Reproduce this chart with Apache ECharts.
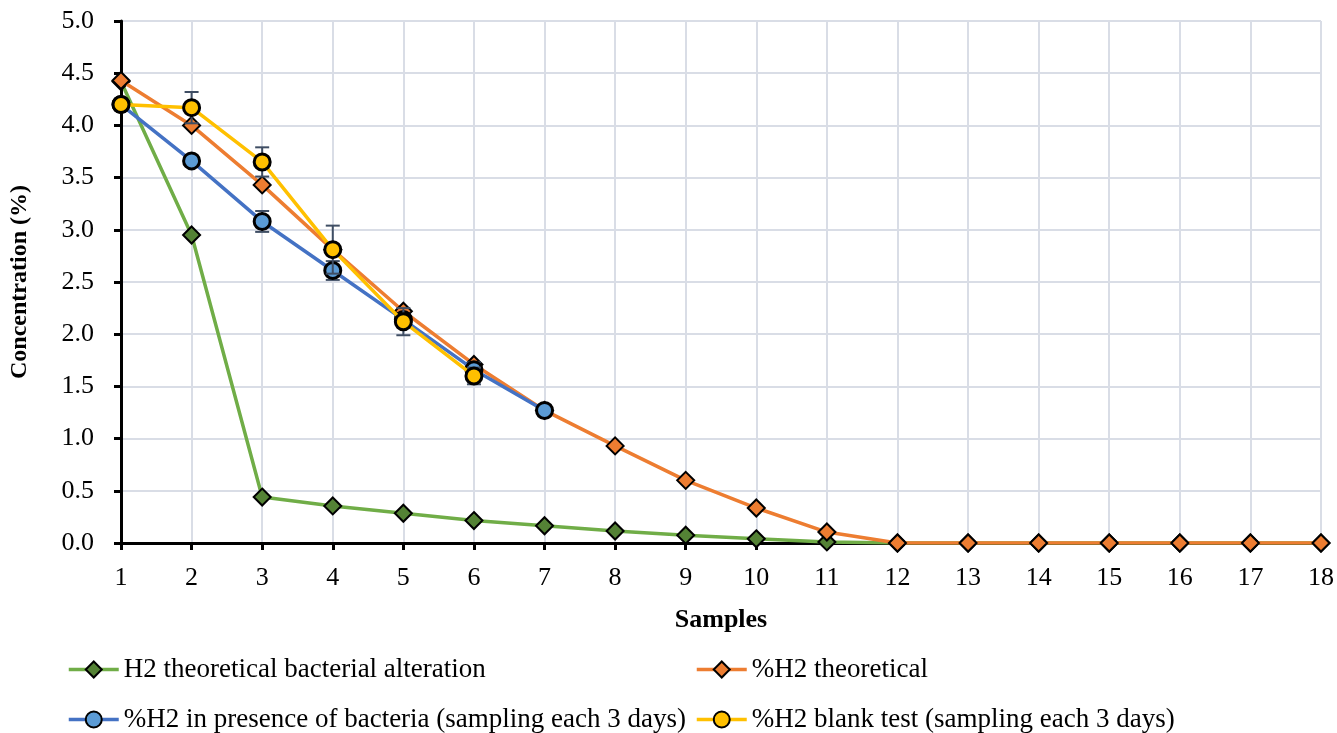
<!DOCTYPE html>
<html><head><meta charset="utf-8">
<script src="https://cdn.jsdelivr.net/npm/echarts@6/dist/echarts.min.js"></script>
<style>html,body{margin:0;padding:0;background:#fff}#c{width:1337px;height:733px}</style>
</head><body><div id="c"></div>
<script>
const samples = [1,2,3,4,5,6,7,8,9,10,11,12,13,14,15,16,17,18];
const greenName = 'H2 theoretical bacterial alteration';
const orangeName = '%H2 theoretical';
const blueName = '%H2 in presence of bacteria (sampling each 3 days)';
const yellowName = '%H2 blank test (sampling each 3 days)';
const greenVals = [4.42,2.95,0.44,0.355,0.285,0.215,0.165,0.115,0.075,0.04,0.01,0,0,0,0,0,0,0];
const orangeVals = [4.43,4.00,3.43,2.81,2.22,1.71,1.27,0.93,0.60,0.335,0.105,0,0,0,0,0,0,0];
const blueVals = [4.20,3.66,3.08,2.61,2.14,1.66,1.27];
const blueErr = [0.02,0.04,0.10,0.09,0.06,0.07,0.05];
const yellowVals = [4.20,4.17,3.65,2.81,2.12,1.60];
const yellowErr = [0.02,0.15,0.14,0.23,0.13,0.08];

const font = '"Liberation Serif","Times New Roman",serif';
function pts(v){return v.map((y,i)=>[samples[i],y]);}
function errData(v,e){return v.map((y,i)=>[samples[i],y-e[i],y+e[i]]);}
function errSeries(v,e,z){
  return {type:'custom',z:z,silent:true,data:errData(v,e),
    renderItem:function(params,api){
      const lo=api.coord([api.value(0),api.value(1)]);
      const hi=api.coord([api.value(0),api.value(2)]);
      const w=7;
      const st={stroke:'#3f4e64',lineWidth:2};
      return {type:'group',children:[
        {type:'line',shape:{x1:lo[0],y1:lo[1],x2:hi[0],y2:hi[1]},style:st},
        {type:'line',shape:{x1:lo[0]-w,y1:lo[1],x2:lo[0]+w,y2:lo[1]},style:st},
        {type:'line',shape:{x1:hi[0]-w,y1:hi[1],x2:hi[0]+w,y2:hi[1]},style:st}
      ]};
    }};
}
function lineSeries(name,data,color,fill,symbol,size,bw,z){
  return {name:name,type:'line',data:pts(data),z:z,symbol:symbol,symbolSize:size,
    lineStyle:{color:color,width:3.5},
    itemStyle:{color:fill,borderColor:'#000',borderWidth:bw},
    emphasis:{disabled:true}};
}
function leg(name,left,top){
  return {left:left,top:top,itemGap:0,itemWidth:50,itemHeight:20,
    lineStyle:{width:3.5},
    textStyle:{fontFamily:font,fontSize:27,color:'#000'},data:[name]};
}
const chart = echarts.init(document.getElementById('c'));
chart.setOption({
  animation:false,
  grid:{left:121,right:16,top:21,bottom:190},
  legend:[
    leg(greenName,62,651),
    leg(blueName,62,701),
    leg(orangeName,690,651),
    leg(yellowName,690,701)
  ],
  xAxis:{type:'value',min:1,max:18,interval:1,name:'Samples',nameLocation:'middle',nameGap:64,
    nameTextStyle:{fontFamily:font,fontSize:26,fontWeight:'bold',color:'#000'},
    axisLine:{lineStyle:{color:'#000',width:3}},
    axisTick:{show:true,length:7,lineStyle:{color:'#000',width:3}},
    axisLabel:{fontFamily:font,fontSize:26,color:'#000',margin:22},
    splitLine:{show:true,lineStyle:{color:'#d9dde6',width:2}}},
  yAxis:{type:'value',min:0,max:5,interval:0.5,name:'Concentration (%)',nameLocation:'middle',nameGap:89,
    nameTextStyle:{fontFamily:font,fontSize:24,fontWeight:'bold',color:'#000'},
    axisLine:{show:true,lineStyle:{color:'#000',width:3}},
    axisTick:{show:true,length:7,lineStyle:{color:'#000',width:3}},
    axisLabel:{fontFamily:font,fontSize:26,color:'#000',margin:27,formatter:v=>v.toFixed(1)},
    splitLine:{show:true,lineStyle:{color:'#d9dde6',width:2}}},
  series:[
    lineSeries(greenName,greenVals,'#70ad47','#548235','diamond',17,2,2),
    lineSeries(orangeName,orangeVals,'#ed7d31','#ed7d31','diamond',17,2,3),
    errSeries(blueVals,blueErr,4),
    lineSeries(blueName,blueVals,'#4472c4','#5b9bd5','circle',16,3,5),
    errSeries(yellowVals,yellowErr,6),
    lineSeries(yellowName,yellowVals,'#ffc000','#ffc000','circle',16,3,7)
  ]
});
</script></body></html>
